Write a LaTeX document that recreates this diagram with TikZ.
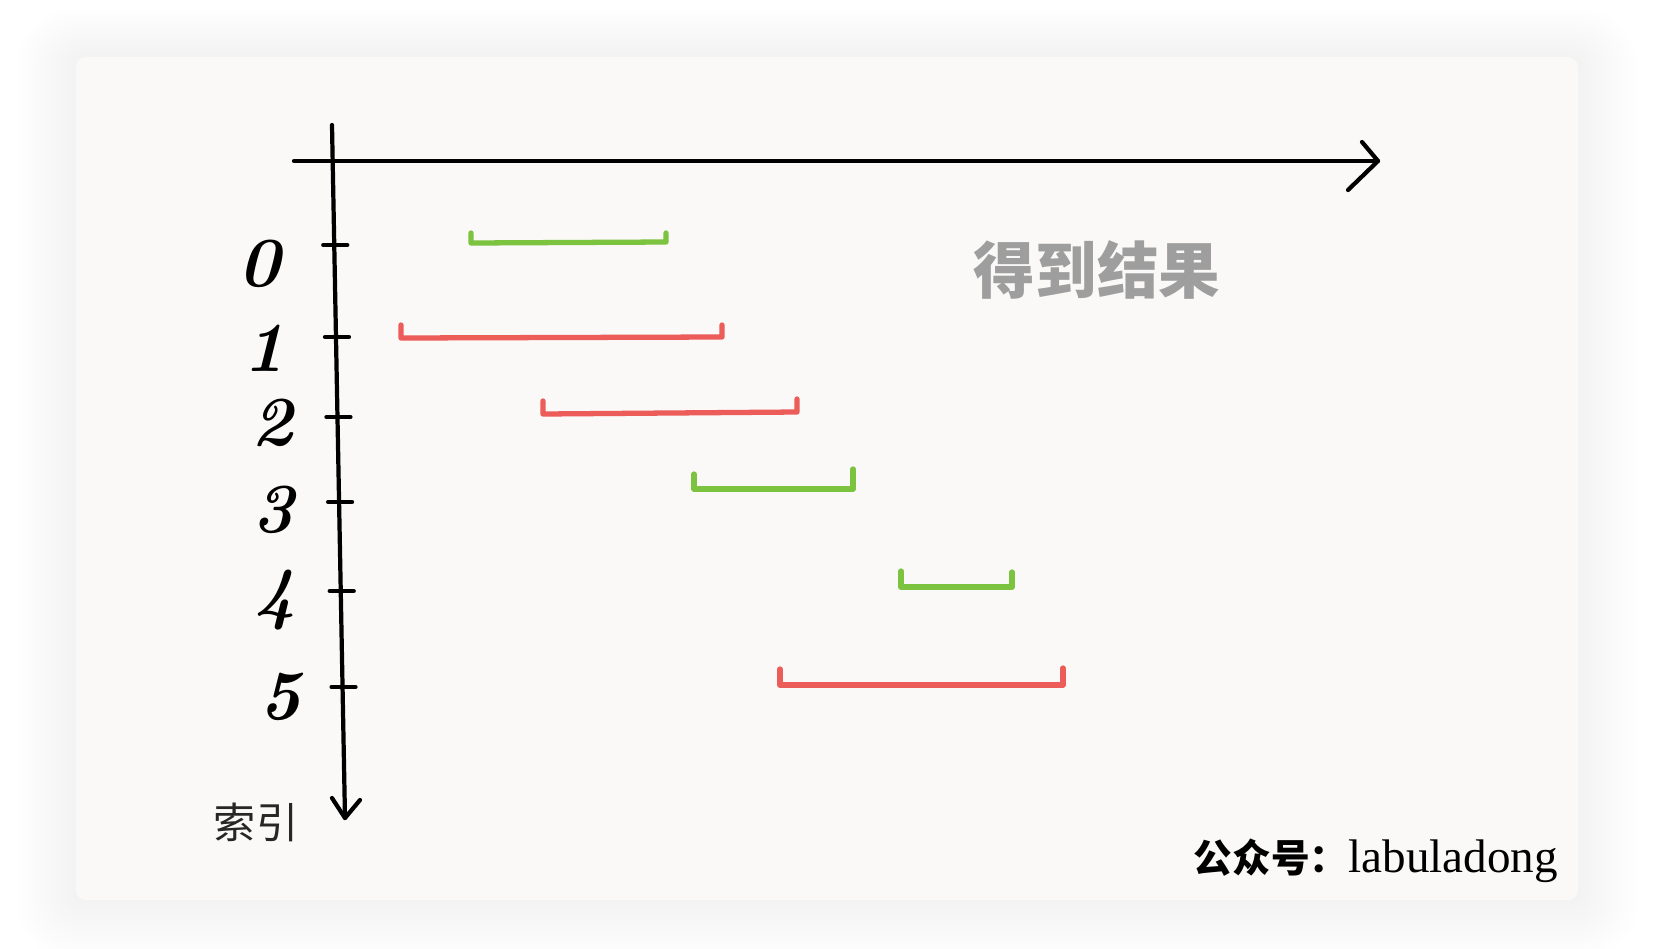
\documentclass[tikz,border=0pt]{standalone}
\usepackage{fontspec}
\newfontfamily\cjk{Noto Sans CJK SC}
\newfontfamily\wmserif{Liberation Serif}
\definecolor{ivgreen}{RGB}{124,195,64}
\definecolor{ivred}{RGB}{236,92,88}
\definecolor{cardbg}{RGB}{250,249,247}
\definecolor{titlegray}{RGB}{158,158,158}
\begin{document}
\begin{tikzpicture}[x=0.01cm, y=-0.01cm,
    axis/.style={line width=1.2pt, line cap=round, line join=round},
    goodiv/.style={draw=ivgreen, line width=1.5pt, line cap=round, line join=round},
    badiv/.style={draw=ivred, line width=1.5pt, line cap=round, line join=round},
    idx/.style={font=\bfseries\itshape\fontsize{20}{20}\selectfont}]
        \useasboundingbox (0,0) rectangle (1658,948);
        % Sfondo e ombra
        \fill[white] (0,0) rectangle (1658,948);
        \foreach \i in {1,...,12}{
            \pgfmathsetmacro\rr{(10+\i*4)*0.01}
            \fill[black, opacity=0.0028, rounded corners=\rr cm] (76-\i*5,57-\i*4) rectangle (1578+\i*5,900+\i*5);
        }
        \fill[cardbg, rounded corners=0.1cm] (76,57) rectangle (1578,900);
        % Assi
        \coordinate (xs) at (294,161);
        \coordinate (xe) at (1378,161);
        \draw[axis] (xs) -- (xe);
        \draw[axis] (1362,142) -- (xe) -- (1348,190);
        \coordinate (ys) at (332,125);
        \coordinate (ye) at (345,818);
        \draw[axis] (ys) -- (ye);
        \draw[axis] (332,798) -- (ye) -- (360,800);
        % Tacche
        \foreach \yy in {245,337,417,502,591,687}{
            \pgfmathsetmacro\xx{332+(\yy-125)*13/693}
            \draw[axis] (\xx-11,\yy) -- (\xx+13,\yy);
        }
        % Indici
        \node[idx] (n0) at (259,264) {0};
        \node[idx] (n1) at (264,348) {1};
        \node[idx] (n2) at (272,423) {2};
        \node[idx] (n3) at (273,510) {3};
        \node[idx] (n4) at (275,600) {4};
        \node[idx] (n5) at (280,697) {5};
        \node[font=\cjk\fontsize{12}{12}\selectfont, text=black!85] (idxlabel) at (256,822) {索引};
        % Intervalli
        \draw[goodiv] (471,233) -- (471,243) -- (666,242) -- (666,233);
        \draw[badiv] (401,325) -- (401,338) -- (722,337) -- (722,325);
        \draw[badiv] (543,401) -- (543,414) -- (797,412) -- (797,399);
        \draw[goodiv] (694,474) -- (694,489) -- (853,489) -- (853,469);
        \draw[goodiv] (901,571) -- (901,587) -- (1012,587) -- (1012,572);
        \draw[badiv] (780,669) -- (780,685) -- (1063,685) -- (1063,668);
        % Testi
        \node[text=titlegray, font=\cjk\bfseries\fontsize{17.5}{17.5}\selectfont] (title) at (1097,270) {得到结果};
        \node[anchor=base west, inner sep=0pt] (wm) at (1193,872)
            {{\cjk\bfseries\fontsize{11}{11}\selectfont 公众号：}{\wmserif\fontsize{13.4}{13.4}\selectfont labuladong}};
    \end{tikzpicture}
\end{document}
